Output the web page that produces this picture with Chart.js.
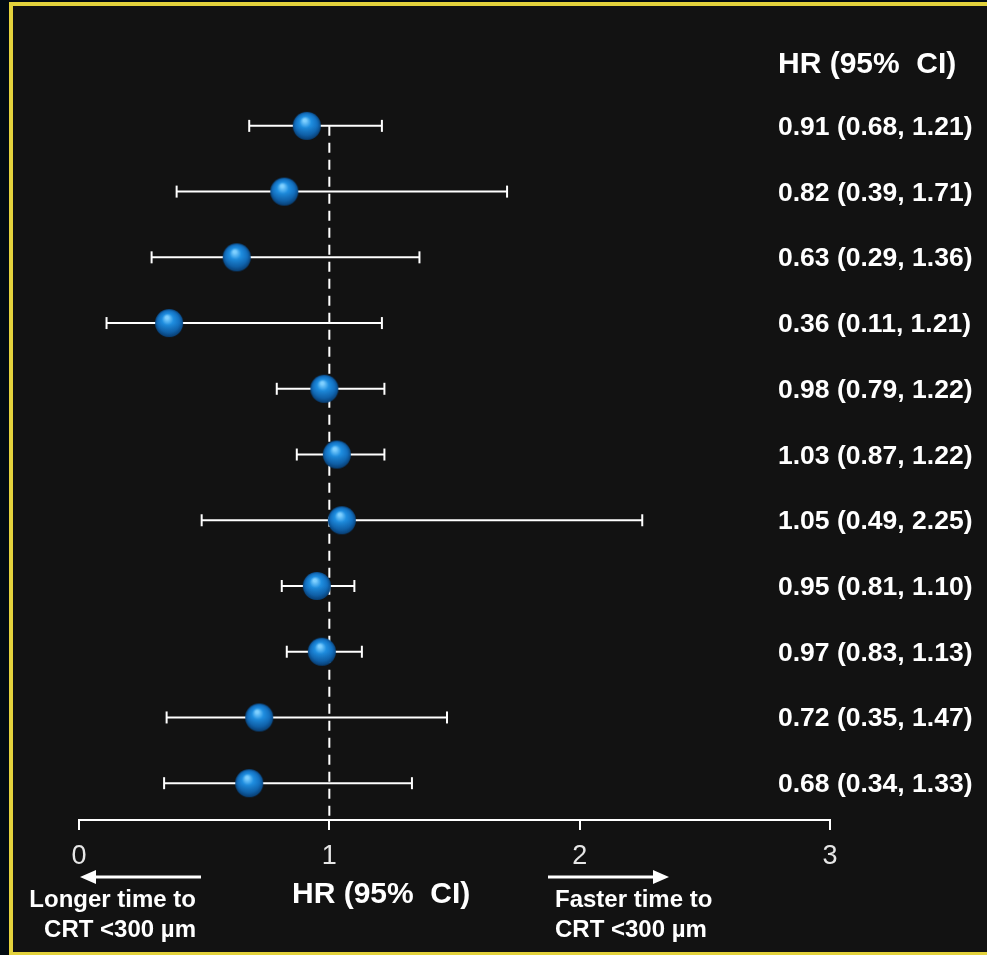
<!DOCTYPE html>
<html lang="en">
<head>
    <meta charset="UTF-8">
    <title>HR forest plot</title>
    <script src="https://cdn.jsdelivr.net/npm/chart.js"></script>
    <style>
        html, body { margin: 0; padding: 0; background: #020b12; }
        canvas { display: block; }
    </style>
</head>
<body>
    <canvas id="forest" width="987" height="955"></canvas>

    <script>
        // Values, top row first
        const hrValues = [0.91, 0.82, 0.63, 0.36, 0.98, 1.03, 1.05, 0.95, 0.97, 0.72, 0.68];
        const ciLower  = [0.68, 0.39, 0.29, 0.11, 0.79, 0.87, 0.49, 0.81, 0.83, 0.35, 0.34];
        const ciUpper  = [1.21, 1.71, 1.36, 1.21, 1.22, 1.22, 2.25, 1.10, 1.13, 1.47, 1.33];
        const xTicks   = [0, 1, 2, 3];
        const refValue = 1;

        const headerText = 'HR (95%  CI)';
        const axisTitle  = 'HR (95%  CI)';
        const leftNote   = ['Longer time to', 'CRT <300 µm'];
        const rightNote  = ['Faster time to', 'CRT <300 µm'];

        const rowMax = 10.56;
        const font = 'Liberation Sans, Arial, sans-serif';

        // little blue sphere used as the point style
        function makeSphere(r) {
            const c = document.createElement('canvas');
            c.width = c.height = r * 2 + 2;
            const g = c.getContext('2d');
            const cx = r + 1, cy = r + 1;
            const grad = g.createRadialGradient(cx - r * 0.15, cy - r * 0.4, r * 0.1, cx, cy, r);
            grad.addColorStop(0, '#7fd0ff');
            grad.addColorStop(0.35, '#1f8ee0');
            grad.addColorStop(0.75, '#1370c0');
            grad.addColorStop(1, '#0a4a86');
            g.fillStyle = grad;
            g.beginPath();
            g.arc(cx, cy, r, 0, Math.PI * 2);
            g.fill();
            // darker lower band
            const low = g.createLinearGradient(0, cy, 0, cy + r);
            low.addColorStop(0, 'rgba(5,40,80,0)');
            low.addColorStop(1, 'rgba(5,40,80,0.35)');
            g.fillStyle = low;
            g.beginPath();
            g.arc(cx, cy, r, 0, Math.PI * 2);
            g.fill();
            return c;
        }
        const sphere = makeSphere(14);

        // one dataset per confidence interval
        const ciSets = hrValues.map((v, i) => ({
            type: 'scatter',
            showLine: true,
            data: [{ x: ciLower[i], y: i }, { x: ciUpper[i], y: i }],
            borderColor: '#ffffff',
            borderWidth: 2,
            pointStyle: 'line',
            rotation: 90,
            pointRadius: 6,
            pointBorderColor: '#ffffff',
            pointBorderWidth: 2,
            order: 3
        }));

        const refLine = {
            type: 'scatter',
            showLine: true,
            data: [{ x: refValue, y: 0 }, { x: refValue, y: rowMax }],
            borderColor: '#ffffff',
            borderWidth: 2,
            borderDash: [10, 7],
            pointRadius: 0,
            order: 4
        };

        const points = {
            type: 'scatter',
            data: hrValues.map((v, i) => ({ x: v, y: i })),
            pointStyle: sphere,
            pointRadius: 14,
            order: 1
        };

        const frame = {
            id: 'frame',
            beforeDraw(chart) {
                const ctx = chart.ctx;
                const w = chart.width, h = chart.height;
                ctx.save();
                ctx.fillStyle = '#020b12';
                ctx.fillRect(0, 0, w, h);
                ctx.fillStyle = '#e3d23c';
                ctx.fillRect(9, 2, w - 9, h - 2);
                ctx.fillStyle = '#121212';
                ctx.fillRect(13, 6, w - 13, 946);
                ctx.restore();
            }
        };

        const labels = {
            id: 'labels',
            afterDraw(chart) {
                const ctx = chart.ctx;
                const y = chart.scales.y;
                ctx.save();
                ctx.fillStyle = '#ffffff';
                ctx.textBaseline = 'alphabetic';

                ctx.font = 'bold 30px ' + font;
                ctx.textAlign = 'left';
                ctx.fillText(headerText, 778, 73);
                ctx.fillText(axisTitle, 292, 903);

                ctx.font = 'bold 26.5px ' + font;
                hrValues.forEach((v, i) => {
                    const txt = v.toFixed(2) + ' (' + ciLower[i].toFixed(2) + ', ' + ciUpper[i].toFixed(2) + ')';
                    ctx.fillText(txt, 778, y.getPixelForValue(i) + 9);
                });

                ctx.font = 'bold 24px ' + font;
                ctx.textAlign = 'right';
                ctx.fillText(leftNote[0], 196, 907);
                ctx.fillText(leftNote[1], 196, 937);
                ctx.textAlign = 'left';
                ctx.fillText(rightNote[0], 555, 907);
                ctx.fillText(rightNote[1], 555, 937);

                // direction arrows
                ctx.strokeStyle = '#ffffff';
                ctx.lineWidth = 3;
                ctx.beginPath();
                ctx.moveTo(201, 877); ctx.lineTo(92, 877);
                ctx.moveTo(548, 877); ctx.lineTo(656, 877);
                ctx.stroke();
                ctx.beginPath();
                ctx.moveTo(80, 877); ctx.lineTo(96, 870); ctx.lineTo(96, 884); ctx.closePath();
                ctx.moveTo(669, 877); ctx.lineTo(653, 870); ctx.lineTo(653, 884); ctx.closePath();
                ctx.fill();
                ctx.restore();
            }
        };

        new Chart(document.getElementById('forest'), {
            type: 'scatter',
            data: { datasets: [...ciSets, refLine, points] },
            options: {
                responsive: false,
                animation: false,
                events: [],
                layout: { padding: { left: 79, right: 157, top: 93, bottom: 0 } },
                plugins: { legend: { display: false }, tooltip: { enabled: false } },
                scales: {
                    x: {
                        type: 'linear',
                        min: xTicks[0],
                        max: xTicks[xTicks.length - 1],
                        afterBuildTicks: s => { s.ticks = xTicks.map(v => ({ value: v })); },
                        afterFit: s => { s.height = 135; },
                        ticks: {
                            color: '#e6e6e6',
                            font: { family: font, size: 27 },
                            padding: 10
                        },
                        grid: {
                            drawOnChartArea: false,
                            drawTicks: true,
                            tickLength: 10,
                            color: '#ffffff',
                            lineWidth: 2
                        },
                        border: { color: '#ffffff', width: 2 }
                    },
                    y: {
                        type: 'linear',
                        display: false,
                        reverse: true,
                        min: -0.5,
                        max: rowMax
                    }
                }
            },
            plugins: [frame, labels]
        });
    </script>
</body>
</html>
